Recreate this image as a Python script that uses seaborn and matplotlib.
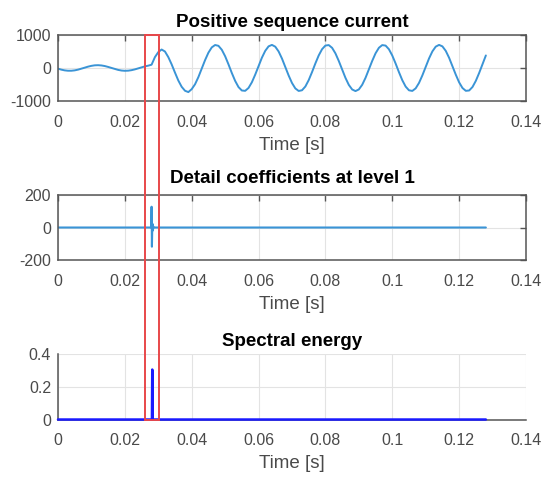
import matplotlib
matplotlib.use('Agg')
import matplotlib.pyplot as plt
import matplotlib.transforms as mtransforms
from matplotlib.patches import Rectangle
import numpy as np
import pandas as pd
import seaborn as sns

# positive sequence current, one reading per ms (0 .. 0.128 s)
current_a = [-21, -50, -72, -83, -83, -72, -50, -21, 10, 41,
             65, 81, 85, 77, 59, 32, 1, -31, -58, -77,
             -85, -81, -66, -42, -12, 20, 49, 71, 100, 330,
             480, 560, 500, 330, 110, -140, -380, -570, -690, -730,
             -641, -493, -276, -20, 239, 464, 624, 697, 672, 553,
             357, 111, -151, -391, -578, -682, -692, -605, -433, -201,
             60, 312, 520, 656, 700, 646, 501, 287, 32, -227,
             -454, -619, -696, -675, -561, -368, -124, 139, 381, 570,
             680, 694, 611, 443, 213, -48, -300, -512, -651, -700,
             -650, -510, -298, -45, 215, 445, 612, 694, 679, 568,
             378, 136, -126, -370, -563, -676, -695, -617, -453, -225,
             34, 289, 503, 647, 700, 655, 519, 310, 57, -202,
             -435, -606, -692, -682, -576, -389, -149, 113, 380]
sample_step = 0.001
time_s = np.arange(len(current_a)) * sample_step

# detail coefficients (level 1)
detail_t = [0, 0.0279, 0.0280, 0.0281, 0.0282, 0.0283, 0.0284, 0.0285, 0.0287, 0.128]
detail_v = [0, 0, 128, -118, 0, 22, -18, 6, 0, 0]

# spectral energy
energy_t = [0, 0.0281, 0.0282, 0.0283, 0.128]
energy_v = [0, 0, 0.305, 0, 0]

# highlighted fault window
window = (0.0260, 0.0302)

xticks = [0, 0.02, 0.04, 0.06, 0.08, 0.1, 0.12, 0.14]
xtick_labels = ['0', '0.02', '0.04', '0.06', '0.08', '0.1', '0.12', '0.14']

sns.set_theme(style='whitegrid')
plt.rcParams['font.family'] = ['Liberation Sans', 'DejaVu Sans']
plt.rcParams['axes.unicode_minus'] = False

spine_col = '#555555'
text_col = '#4a4a4a'
line_col = '#3a94d6'

fig = plt.figure(figsize=(5.45, 4.8), dpi=100)
fig.patch.set_facecolor('white')

ax1 = fig.add_axes([0.1064, 0.7896, 0.8587, 0.1375])
ax2 = fig.add_axes([0.1064, 0.4583, 0.8587, 0.1354])
ax3 = fig.add_axes([0.1064, 0.1260, 0.8587, 0.1365])

df1 = pd.DataFrame({'t': time_s, 'i': current_a})
sns.lineplot(data=df1, x='t', y='i', ax=ax1, color=line_col, lw=1.4)
sns.lineplot(x=detail_t, y=detail_v, ax=ax2, color=line_col, lw=1.5)
sns.lineplot(x=energy_t, y=energy_v, ax=ax3, color='#1a1aff', lw=1.8, clip_on=False, zorder=5)

ax1.set_ylim(-1000, 1000)
ax1.set_yticks([-1000, 0, 1000])
ax2.set_ylim(-200, 200)
ax2.set_yticks([-200, 0, 200])
ax3.set_ylim(0, 0.4)
ax3.set_yticks([0, 0.2, 0.4])
ax3.set_yticklabels(['0', '0.2', '0.4'])

titles = ['Positive sequence current', 'Detail coefficients at level 1', 'Spectral energy']
pads = [6, 8.5, 6]
for ax, title, pad in zip([ax1, ax2, ax3], titles, pads):
    ax.set_xlim(0, 0.14)
    ax.set_xticks(xticks)
    ax.set_xticklabels(xtick_labels)
    ax.set_title(title, fontsize=13.5, fontweight='bold', color='black', pad=pad)
    ax.set_xlabel('Time [s]', fontsize=13.5, color=text_col, labelpad=5)
    ax.set_ylabel('')
    ax.grid(True, color='#e3e3e3', lw=0.8)
    ax.set_facecolor('white')
    for s in ax.spines.values():
        s.set_color(spine_col)
        s.set_linewidth(1.1)
    ax.tick_params(direction='in', length=4, width=1, color=spine_col,
                   labelsize=11.5, labelcolor=text_col, top=True, right=True)
    ax.tick_params(axis='x', pad=10)
    ax.tick_params(axis='y', pad=5)

# third plot drawn without the box
ax3.spines['top'].set_visible(False)
ax3.spines['right'].set_visible(False)
ax3.tick_params(top=False, right=False)

# red window over all three plots
trans = mtransforms.blended_transform_factory(ax1.transData, fig.transFigure)
y_low = 0.1260
y_high = 0.7896 + 0.1375
rect = Rectangle((window[0], y_low), window[1] - window[0], y_high - y_low,
                 transform=trans, fill=False, edgecolor='#e8474a', lw=1.4,
                 clip_on=False, zorder=10)
fig.add_artist(rect)

fig.savefig('out.png', dpi=100)
